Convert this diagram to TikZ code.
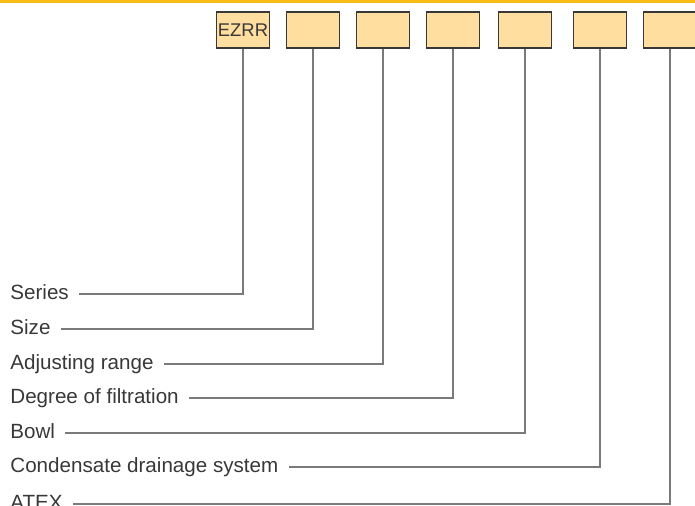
\documentclass[tikz,border=0pt]{standalone}
\usepackage{fontspec}
\setmainfont{Liberation Sans}
\definecolor{bandyellow}{HTML}{F8BA14}
\definecolor{boxfill}{HTML}{FFDE9F}
\definecolor{textgray}{HTML}{383838}
\definecolor{linegray}{HTML}{7A7A7A}
\begin{document}
\begin{tikzpicture}[x=0.5pt,y=-0.5pt,
    codebox/.style={draw=textgray,fill=boxfill,line width=0.6pt,minimum width=26.5pt,minimum height=18pt,inner sep=0pt,font=\fontsize{9.2}{10}\selectfont,text=textgray},
    keylabel/.style={anchor=west,inner sep=0pt,text height=7.5pt,text depth=2.5pt,font=\fontsize{10.3}{12}\selectfont,text=textgray},
    keyline/.style={draw=linegray,line width=0.6pt,shorten <=5pt}]
        \useasboundingbox (0,0) rectangle (695,505);
        \fill[bandyellow] (0,0) rectangle (695,3);
        \node[codebox] (b1) at (243,30) {EZRR};
        \node[codebox] (b2) at (313,30) {};
        \node[codebox] (b3) at (383,30) {};
        \node[codebox] (b4) at (453,30) {};
        \node[codebox] (b5) at (525,30) {};
        \node[codebox] (b6) at (600,30) {};
        \node[codebox] (b7) at (670,30) {};
        \node[keylabel] (l1) at (10,294) {Series};
        \node[keylabel] (l2) at (10,329) {Size};
        \node[keylabel] (l3) at (10,364) {Adjusting range};
        \node[keylabel] (l4) at (10,398) {Degree of filtration};
        \node[keylabel] (l5) at (10,433) {Bowl};
        \node[keylabel] (l6) at (10,467) {Condensate drainage system};
        \node[keylabel] (l7) at (10,504) {ATEX};
        \draw[keyline] (l1.east) -| (b1.south);
        \draw[keyline] (l2.east) -| (b2.south);
        \draw[keyline] (l3.east) -| (b3.south);
        \draw[keyline] (l4.east) -| (b4.south);
        \draw[keyline] (l5.east) -| (b5.south);
        \draw[keyline] (l6.east) -| (b6.south);
        \draw[keyline] (l7.east) -| (b7.south);
      \end{tikzpicture}
\end{document}
